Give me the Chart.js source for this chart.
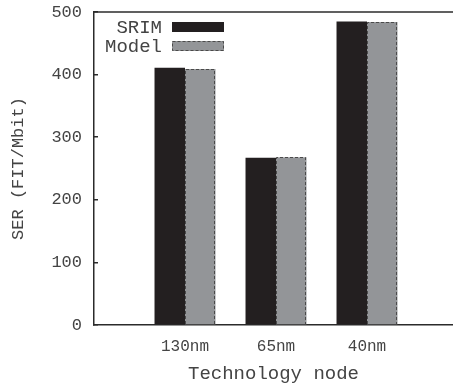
<!DOCTYPE html>
<html>
<head>
<meta charset="utf-8">
<script src="https://cdn.jsdelivr.net/npm/chart.js@4"></script>
<style>
  html, body { margin: 0; padding: 0; background: #fff; }
  #wrap { width: 453px; height: 387px; }
</style>
</head>
<body>
<div id="wrap"><canvas id="c" width="453" height="387"></canvas></div>
<script>
// Soft error rate per technology node
const categories = ['130nm', '65nm', '40nm'];
const srimValues = [411, 267, 485];
const modelValues = [409, 268, 484];
const yTickValues = [0, 100, 200, 300, 400, 500];

const INK = '#2b2b2b';
const TEXT = '#444444';
const FONT = '"Liberation Mono", "DejaVu Sans Mono", monospace';

// Dashed outline around the Model bars (bar elements cannot dash their border)
const dashedOutline = {
  id: 'dashedOutline',
  afterDatasetsDraw(chart) {
    const meta = chart.getDatasetMeta(1);
    const ctx = chart.ctx;
    ctx.save();
    ctx.strokeStyle = '#4a4a4a';
    ctx.lineWidth = 1;
    ctx.setLineDash([3, 2]);
    meta.data.forEach(bar => {
      const p = bar.getProps(['x', 'y', 'width', 'base'], true);
      const l = Math.round(p.x - p.width / 2) + 0.5;
      const r = Math.round(p.x + p.width / 2) - 0.5;
      const t = Math.round(p.y) + 0.5;
      const b = Math.round(p.base);
      ctx.beginPath();
      ctx.moveTo(l, b);
      ctx.lineTo(l, t);
      ctx.lineTo(r, t);
      ctx.lineTo(r, b);
      ctx.stroke();
    });
    ctx.restore();
  }
};

// Top frame line and key in the upper-left corner
const frameAndKey = {
  id: 'frameAndKey',
  afterDraw(chart) {
    const ctx = chart.ctx;
    const a = chart.chartArea;
    ctx.save();
    ctx.strokeStyle = INK;
    ctx.lineWidth = 1.5;
    ctx.beginPath();
    ctx.moveTo(a.left, a.top);
    ctx.lineTo(a.right, a.top);
    ctx.stroke();

    ctx.font = '19px ' + FONT;
    ctx.textAlign = 'right';
    ctx.textBaseline = 'middle';
    chart.data.datasets.forEach((ds, i) => {
      const cy = a.top + 15 + i * 19;
      ctx.fillStyle = TEXT;
      ctx.fillText(ds.label, a.left + 68, cy + 1);
      const bx = a.left + 78, bw = 52, bh = 10;
      ctx.fillStyle = ds.backgroundColor;
      ctx.fillRect(bx, cy - bh / 2, bw, bh);
      if (i === 1) {
        ctx.strokeStyle = '#4a4a4a';
        ctx.lineWidth = 1;
        ctx.setLineDash([3, 2]);
        ctx.strokeRect(bx + 0.5, cy - bh / 2 + 0.5, bw - 1, bh - 1);
        ctx.setLineDash([]);
      }
    });
    ctx.restore();
  }
};

new Chart(document.getElementById('c'), {
  type: 'bar',
  data: {
    datasets: [
      {
        label: 'SRIM',
        data: srimValues.map((v, i) => ({ x: i + 1, y: v })),
        backgroundColor: '#231f20',
        borderWidth: 0
      },
      {
        label: 'Model',
        data: modelValues.map((v, i) => ({ x: i + 1, y: v })),
        backgroundColor: '#939598',
        borderWidth: 0
      }
    ]
  },
  options: {
    responsive: false,
    animation: false,
    events: [],
    categoryPercentage: 0.67,
    barPercentage: 1,
    layout: { padding: { top: 0, left: 0, right: 0, bottom: 0 } },
    plugins: {
      legend: { display: false },
      tooltip: { enabled: false }
    },
    scales: {
      x: {
        type: 'linear',
        min: 0,
        max: 3.945,
        offset: false,
        grid: { display: false, offset: false },
        border: { display: true, color: INK, width: 1.5 },
        afterBuildTicks(scale) {
          scale.ticks = categories.map((c, i) => ({ value: i + 1 }));
        },
        afterFit(scale) { scale.height = 62; },
        ticks: {
          autoSkip: false,
          maxRotation: 0,
          padding: 4,
          color: TEXT,
          font: { family: FONT, size: 16 },
          callback: (v) => categories[v - 1]
        },
        title: {
          display: true,
          text: 'Technology node',
          color: TEXT,
          font: { family: FONT, size: 19 },
          padding: { top: 0, bottom: 2 }
        }
      },
      y: {
        min: 0,
        max: 500,
        afterBuildTicks(scale) {
          scale.ticks = yTickValues.map(v => ({ value: v }));
        },
        afterFit(scale) {
          scale.width = 94;
          scale.paddingTop = 12;
        },
        grid: {
          drawOnChartArea: false,
          drawTicks: true,
          tickLength: -4,
          color: INK,
          lineWidth: 1.5
        },
        border: { display: true, color: INK, width: 1.5 },
        ticks: {
          padding: 16,
          color: TEXT,
          font: { family: FONT, size: 17 }
        },
        title: {
          display: true,
          text: 'SER (FIT/Mbit)',
          color: TEXT,
          font: { family: FONT, size: 17 },
          padding: { top: 8, bottom: 0 }
        }
      }
    }
  },
  plugins: [dashedOutline, frameAndKey]
});
</script>
</body>
</html>
